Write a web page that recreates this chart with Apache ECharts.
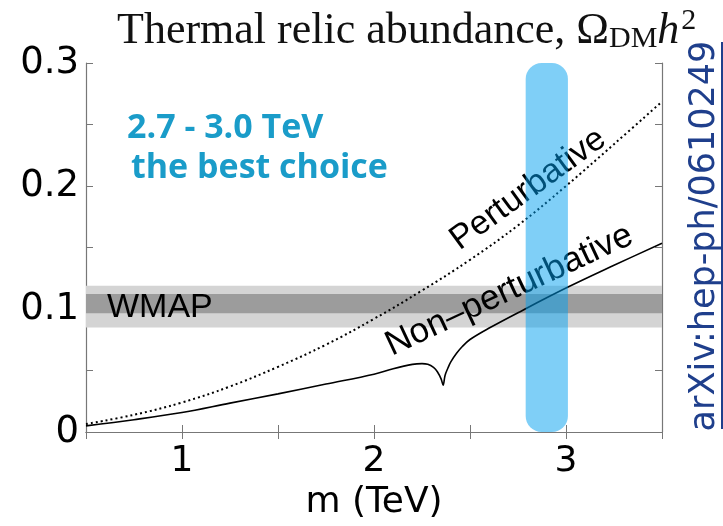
<!DOCTYPE html>
<html>
<head>
<meta charset="utf-8">
<script src="https://cdn.jsdelivr.net/npm/echarts@6/dist/echarts.min.js"></script>
<style>
  html, body { margin: 0; padding: 0; background: #ffffff; }
  #chart { width: 723px; height: 526px; }
</style>
</head>
<body>
<div id="chart"></div>
<script>
// Dark-matter mass (TeV) grid for the perturbative curve
const massGrid = [0.5, 0.75, 1.0, 1.25, 1.5, 1.75, 2.0, 2.25, 2.5, 2.75, 3.0, 3.25, 3.5];
// Omega h^2, perturbative (dotted)
const perturbative = [0.0065, 0.014, 0.024, 0.037, 0.053, 0.071, 0.092, 0.115, 0.140, 0.168, 0.200, 0.234, 0.2686];

// Non-perturbative curve (solid) with the resonance dip near 2.36 TeV
const nonPertMass = [0.5, 0.75, 1.0, 1.25, 1.5, 1.75, 2.0, 2.1, 2.2, 2.25, 2.28, 2.31, 2.33, 2.35, 2.36,
  2.37, 2.385, 2.4, 2.43, 2.46, 2.5, 2.6, 2.75, 3.0, 3.25, 3.5];
const nonPerturbative = [0.005, 0.010, 0.0158, 0.0235, 0.031, 0.039, 0.047, 0.0515, 0.0550, 0.0556, 0.0550,
  0.0525, 0.049, 0.043, 0.038, 0.046, 0.052, 0.057, 0.064, 0.0695, 0.0752, 0.0845, 0.097, 0.117, 0.1355, 0.1535];

// WMAP bands (outer and inner)
const wmapOuter = [0.085, 0.119];
const wmapInner = [0.0965, 0.1122];

// Preferred mass window
const bestRange = [2.79, 3.01];

// Axis tick labels
const xTickLabels = { 1: '1', 2: '2', 3: '3' };
const yTickLabels = ['0', '0.1', '0.2', '0.3'];

const chart = echarts.init(document.getElementById('chart'));

const tickFont = 'DejaVu Sans';
const frameColor = '#777777';

function zip(xs, ys) { return xs.map((x, i) => [x, ys[i]]); }

const serif = { fontFamily: 'Liberation Serif', fontWeight: 'normal', color: '#111' };

const option = {
  animation: false,
  backgroundColor: '#ffffff',
  title: {
    text: '{a|Thermal relic abundance, Ω}{sub|DM}{i|h}{sup|2}',
    left: 112,
    top: 1,
    textStyle: {
      fontWeight: 'normal',
      rich: {
        a: Object.assign({}, serif, { fontSize: 44 }),
        sub: Object.assign({}, serif, { fontSize: 30, padding: [16, 0, 0, 0] }),
        i: Object.assign({}, serif, { fontSize: 44, fontStyle: 'italic' }),
        sup: Object.assign({}, serif, { fontSize: 30, padding: [0, 0, 20, 2] })
      }
    }
  },
  grid: { left: 86, right: 61, top: 63, bottom: 94, containLabel: false },
  xAxis: [
    {
      type: 'value', min: 0.5, max: 3.5, interval: 0.5, position: 'bottom',
      name: 'm (TeV)', nameLocation: 'middle', nameGap: 46,
      nameTextStyle: { fontFamily: tickFont, fontSize: 36, color: '#000' },
      axisLine: { show: true, lineStyle: { color: frameColor, width: 1.2 } },
      axisTick: { show: true, inside: true, length: 7, lineStyle: { color: frameColor } },
      axisLabel: {
        margin: 12, fontFamily: tickFont, fontSize: 36, color: '#000',
        formatter: v => xTickLabels[v] || ''
      },
      splitLine: { show: false }
    },
    {
      type: 'value', min: 0.5, max: 3.5, interval: 0.5, position: 'top',
      axisLine: { show: true, lineStyle: { color: frameColor, width: 1.2 } },
      axisTick: { show: true, inside: true, length: 7, lineStyle: { color: frameColor } },
      axisLabel: { show: false },
      splitLine: { show: false }
    }
  ],
  yAxis: [
    {
      type: 'value', min: 0, max: 0.3, interval: 0.05, position: 'left',
      axisLine: { show: true, lineStyle: { color: frameColor, width: 1.2 } },
      axisTick: { show: true, inside: true, length: 7, lineStyle: { color: frameColor } },
      axisLabel: {
        margin: 7, fontFamily: tickFont, fontSize: 37, color: '#000',
        formatter: v => {
          const k = Math.round(v * 10);
          return Math.abs(v * 10 - k) < 1e-6 ? yTickLabels[k] : '';
        }
      },
      splitLine: { show: false }
    },
    {
      type: 'value', min: 0, max: 0.3, interval: 0.05, position: 'right',
      axisLine: { show: true, lineStyle: { color: frameColor, width: 1.2 } },
      axisTick: { show: true, inside: true, length: 7, lineStyle: { color: frameColor } },
      axisLabel: { show: false },
      splitLine: { show: false }
    }
  ],
  graphic: [
    { type: 'text', z: 5, left: 107, top: 291,
      style: { text: 'WMAP', font: '34px "Liberation Sans"', fill: '#000' } },
    { type: 'text', z: 5, x: 464, y: 257, rotation: 36 * Math.PI / 180,
      style: { text: 'Perturbative', font: '34px "Liberation Sans"', fill: '#000',
        textAlign: 'left', textVerticalAlign: 'bottom' } },
    { type: 'text', z: 5, x: 395, y: 363, rotation: 25 * Math.PI / 180,
      style: { text: 'Non–perturbative', font: '35px "Liberation Sans"', fill: '#000',
        textAlign: 'left', textVerticalAlign: 'bottom' } },
    { type: 'text', z: 5, left: 127, top: 111,
      style: { text: '2.7 - 3.0 TeV', font: 'bold 34px "Open Sans"', fill: '#1a9cc9' } },
    { type: 'text', z: 5, left: 131, top: 151,
      style: { text: 'the best choice', font: 'bold 34px "Open Sans"', fill: '#1a9cc9' } },
    { type: 'text', z: 5, x: 705, y: 236, rotation: Math.PI / 2,
      style: { text: 'arXiv:hep-ph/0610249', font: '35px "DejaVu Sans"', fill: '#1f3f8c',
        textAlign: 'center', textVerticalAlign: 'middle' } },
    { type: 'line', z: 5, shape: { x1: 722, y1: 42, x2: 722, y2: 429 },
      style: { stroke: '#1f3f8c', lineWidth: 2 } }
  ],
  series: [
    {
      name: 'WMAP outer', type: 'line', data: [], z: 1, silent: true,
      markArea: {
        silent: true,
        itemStyle: { color: '#d4d4d4' },
        data: [[{ yAxis: wmapOuter[0] }, { yAxis: wmapOuter[1] }]]
      }
    },
    {
      name: 'WMAP inner', type: 'line', data: [], z: 1, silent: true,
      markArea: {
        silent: true,
        itemStyle: { color: '#9c9c9c' },
        data: [[{ yAxis: wmapInner[0] }, { yAxis: wmapInner[1] }]]
      }
    },
    {
      name: 'Perturbative', type: 'line', z: 3, smooth: 0.4, showSymbol: false,
      data: zip(massGrid, perturbative),
      lineStyle: { color: '#000', width: 2, type: [2, 3] }
    },
    {
      name: 'Non-perturbative', type: 'line', z: 3, smooth: 0.35, showSymbol: false,
      data: zip(nonPertMass, nonPerturbative),
      lineStyle: { color: '#000', width: 1.6 }
    },
    {
      name: 'Best range', type: 'custom', z: 10, silent: true,
      data: [[bestRange[0], bestRange[1]]],
      renderItem: (params, api) => {
        const p0 = api.coord([api.value(0), 0.3]);
        const p1 = api.coord([api.value(1), 0]);
        return {
          type: 'rect',
          shape: { x: p0[0], y: p0[1], width: p1[0] - p0[0], height: p1[1] - p0[1], r: 16 },
          style: { fill: 'rgba(0,160,240,0.5)' }
        };
      }
    }
  ]
};

chart.setOption(option);
</script>
</body>
</html>
